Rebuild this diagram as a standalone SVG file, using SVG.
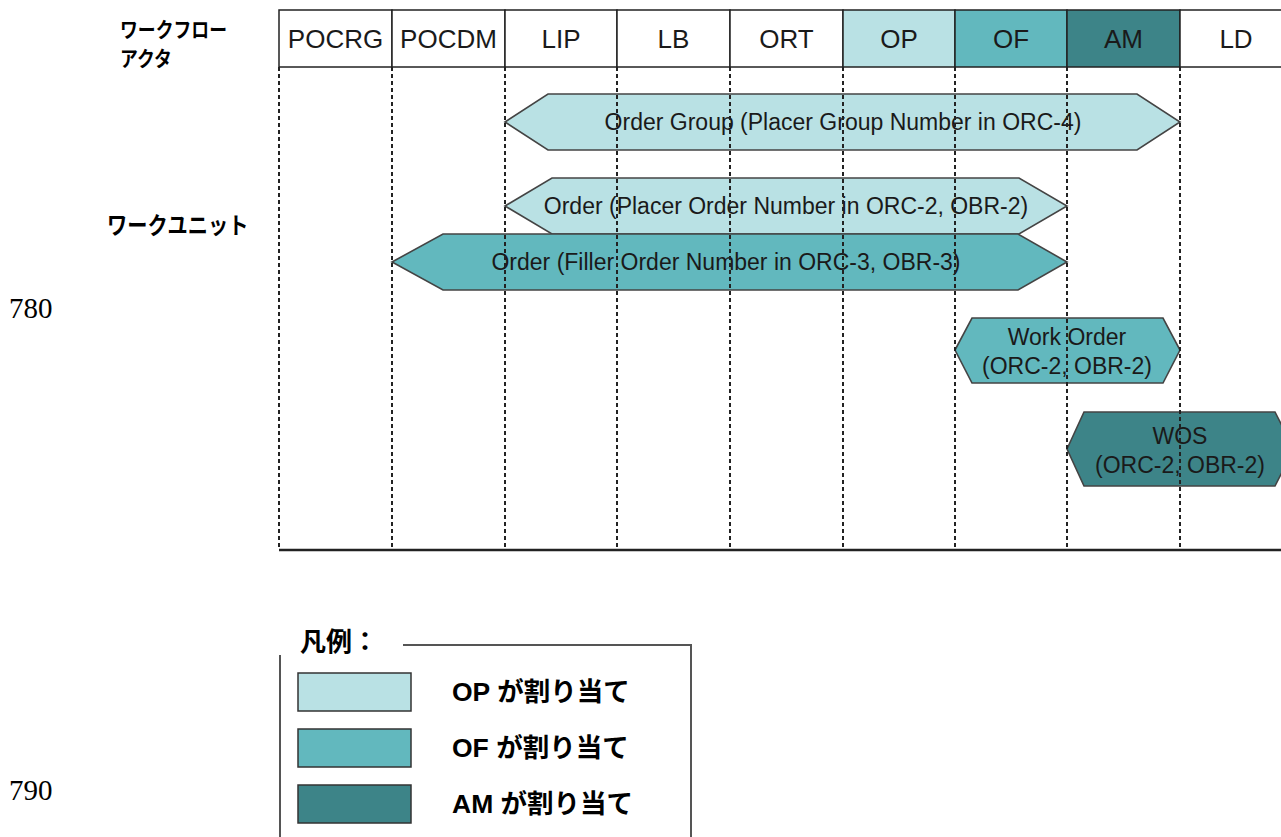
<svg xmlns="http://www.w3.org/2000/svg" width="1281" height="837" viewBox="0 0 1281 837">
  <style>
    .cell { stroke: #222; stroke-width: 1.5; }
    .op { fill: #b9e1e4; }
    .of { fill: #62b8be; }
    .am { fill: #3d8488; }
    .blank { fill: #ffffff; }
    .hdr { font-family: "Liberation Sans", Arial, sans-serif; font-size: 26px; fill: #1a1a1a; text-anchor: middle; }
    .hex { stroke: #444; stroke-width: 1.6; stroke-linejoin: miter; }
    .lbl { font-family: "Liberation Sans", Arial, sans-serif; font-size: 23px; fill: #1a1a1a; text-anchor: middle; }
    .jp { font-family: "Noto Sans CJK JP", sans-serif; font-weight: bold; fill: #000; }
    .lane { stroke: #222; stroke-width: 2; stroke-dasharray: 4 3; fill: none; }
    .leg { font-family: "Liberation Sans", "Noto Sans CJK JP", sans-serif; font-weight: bold; font-size: 26.5px; fill: #000; }
    .swatch { stroke: #333; stroke-width: 1.5; }
    .num { font-family: "Liberation Serif", "Times New Roman", serif; font-size: 29px; fill: #000; }
  </style>

  <rect x="0" y="0" width="1281" height="837" fill="#ffffff"/>

  <!-- row captions (narrowed bold katakana) -->
  <text class="jp" transform="translate(120 37) scale(0.85 1)" font-size="21">ワークフロー</text>
  <text class="jp" transform="translate(120 66) scale(0.85 1)" font-size="21">アクタ</text>
  <text class="jp" transform="translate(107 234) scale(0.86 1)" font-size="23.5">ワークユニット</text>

  <!-- line numbers -->
  <text class="num" x="9" y="318">780</text>
  <text class="num" x="9" y="800">790</text>

  <!-- actor header -->
  <g id="actors">
    <g id="actor-POCRG"><rect class="cell blank" x="279" y="10" width="113" height="57"/><text class="hdr" x="335.5" y="48">POCRG</text></g>
    <g id="actor-POCDM"><rect class="cell blank" x="392" y="10" width="113" height="57"/><text class="hdr" x="448.5" y="48">POCDM</text></g>
    <g id="actor-LIP"><rect class="cell blank" x="505" y="10" width="112" height="57"/><text class="hdr" x="561" y="48">LIP</text></g>
    <g id="actor-LB"><rect class="cell blank" x="617" y="10" width="113" height="57"/><text class="hdr" x="673.5" y="48">LB</text></g>
    <g id="actor-ORT"><rect class="cell blank" x="730" y="10" width="113" height="57"/><text class="hdr" x="786.5" y="48">ORT</text></g>
    <g id="actor-OP"><rect class="cell op" x="843" y="10" width="112" height="57"/><text class="hdr" x="899" y="48">OP</text></g>
    <g id="actor-OF"><rect class="cell of" x="955" y="10" width="112" height="57"/><text class="hdr" x="1011" y="48">OF</text></g>
    <g id="actor-AM"><rect class="cell am" x="1067" y="10" width="113" height="57"/><text class="hdr" x="1123.5" y="48">AM</text></g>
    <g id="actor-LD"><rect class="cell blank" x="1180" y="10" width="110" height="57"/><text class="hdr" x="1236" y="48">LD</text></g>
  </g>

  <!-- work units -->
  <g id="unit-order-group">
    <polygon class="hex op" points="505,122 548,94 1137,94 1180,122 1137,150 548,150"/>
    <text class="lbl" x="843" y="130">Order Group (Placer Group Number in ORC-4)</text>
  </g>
  <g id="unit-placer-order">
    <polygon class="hex op" points="505,206 552,178 1019,178 1067,206 1019,234 552,234"/>
    <text class="lbl" x="786" y="214">Order (Placer Order Number in ORC-2, OBR-2)</text>
  </g>
  <g id="unit-filler-order">
    <polygon class="hex of" points="392,262 443,234 1018,234 1067,262 1018,290 443,290"/>
    <text class="lbl" x="726" y="270">Order (Filler Order Number in ORC-3, OBR-3)</text>
  </g>
  <g id="unit-work-order">
    <polygon class="hex of" points="955,350 972,318 1163,318 1180,350 1163,383 972,383"/>
    <text class="lbl" x="1067" y="345">Work Order</text>
    <text class="lbl" x="1067" y="374">(ORC-2, OBR-2)</text>
  </g>
  <g id="unit-wos">
    <polygon class="hex am" points="1067,449 1084,412 1275,412 1294,449 1275,486 1084,486"/>
    <text class="lbl" x="1180" y="444">WOS</text>
    <text class="lbl" x="1180" y="473">(ORC-2, OBR-2)</text>
  </g>

  <!-- swimlane separators -->
  <g id="connectors">
    <path class="lane" d="M279,67V550 M392,67V550 M505,67V550 M617,67V550 M730,67V550 M843,67V550 M955,67V550 M1067,67V550 M1180,67V550"/>
    <line x1="279" y1="550" x2="1281" y2="550" stroke="#222" stroke-width="2.5"/>
  </g>

  <!-- legend -->
  <g id="legend">
    <text class="jp" x="300" y="651" font-size="26">凡例：</text>
    <path d="M403,645H691V837 M280,655V837" fill="none" stroke="#555" stroke-width="2"/>
    <rect class="swatch op" x="298" y="673" width="113" height="38"/>
    <rect class="swatch of" x="298" y="729" width="113" height="38"/>
    <rect class="swatch am" x="298" y="785" width="113" height="38"/>
    <text class="leg" x="452" y="701">OP が割り当て</text>
    <text class="leg" x="452" y="757">OF が割り当て</text>
    <text class="leg" x="452" y="813">AM が割り当て</text>
  </g>
</svg>
